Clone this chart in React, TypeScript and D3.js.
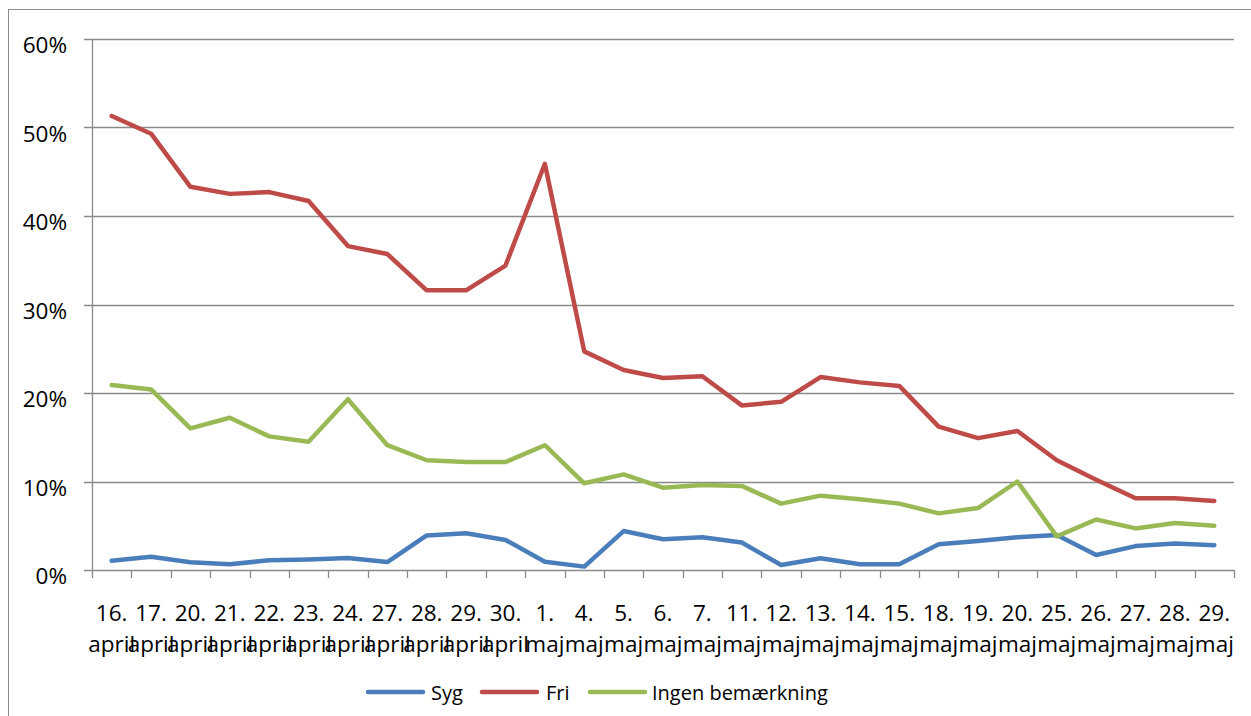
import React from "react";
import * as d3 from "d3";

const days = ["16.","17.","20.","21.","22.","23.","24.","27.","28.","29.","30.","1.","4.","5.","6.","7.","11.","12.","13.","14.","15.","18.","19.","20.","25.","26.","27.","28.","29."];
const months = ["april","april","april","april","april","april","april","april","april","april","april","maj","maj","maj","maj","maj","maj","maj","maj","maj","maj","maj","maj","maj","maj","maj","maj","maj","maj"];
const syg = [1.05,1.5,0.87,0.64,1.1,1.2,1.35,0.9,3.9,4.15,3.4,0.94,0.38,4.4,3.47,3.7,3.1,0.56,1.32,0.64,0.64,2.9,3.28,3.7,3.95,1.7,2.7,3.0,2.8];
const fri = [51.3,49.3,43.3,42.5,42.7,41.7,36.6,35.7,31.6,31.6,34.4,45.9,24.7,22.6,21.7,21.9,18.6,19.0,21.8,21.2,20.8,16.2,14.9,15.7,12.4,10.2,8.1,8.1,7.8];
const ingen = [20.9,20.4,16.0,17.2,15.1,14.5,19.3,14.1,12.4,12.2,12.2,14.1,9.8,10.8,9.3,9.6,9.5,7.5,8.4,8.0,7.5,6.4,7.0,10.0,3.8,5.7,4.7,5.3,5.0];
const yTicks = [0, 10, 20, 30, 40, 50, 60];
const seriesNames = ["Syg", "Fri", "Ingen bemærkning"];
const seriesColors = ["#4A7EBB", "#BE4B48", "#98B954"];

const FONT = "'Open Sans', Lato, sans-serif";

export default function App() {
  const W = 1251, H = 716;
  const left = 92, right = 1234, top = 39, bottom = 570;
  const idx = days.map((_, i) => String(i));
  const x = d3.scaleBand<string>().domain(idx).range([left, right]);
  const y = d3.scaleLinear().domain([0, 60]).range([bottom, top]);
  const cx = (i: number) => (x(String(i)) as number) + x.bandwidth() / 2;
  const line = d3.line<number>().x((_, i) => cx(i)).y((d) => y(d));
  const series = [syg, fri, ingen];
  const boundaries = d3.range(days.length + 1).map((i) => left + i * x.bandwidth());

  const legendItems = [
    { lx: 368, tx: 431 },
    { lx: 482, tx: 546 },
    { lx: 590, tx: 652 },
  ];

  return (
    <svg width={W} height={H} style={{ position: "fixed", left: 0, top: 0, background: "#fff" }} fontFamily={FONT}>
      <rect x={8.5} y={9.5} width={1400} height={900} fill="#fff" stroke="#8a8a8a" strokeWidth={1} />
      {yTicks.map((t) => (
        <g key={t}>
          <line x1={84} x2={right} y1={Math.round(y(t)) + 0.5} y2={Math.round(y(t)) + 0.5} stroke="#8a8a8a" strokeWidth={1.3} />
          <text x={67} y={y(t) + 14} textAnchor="end" fontSize={22.5} fill="#000">{t}%</text>
        </g>
      ))}
      <line x1={left + 0.5} x2={left + 0.5} y1={top} y2={bottom} stroke="#8a8a8a" strokeWidth={1.3} />
      {boundaries.map((bx, i) => (
        <line key={i} x1={Math.round(bx) + 0.5} x2={Math.round(bx) + 0.5} y1={bottom} y2={bottom + 8} stroke="#8a8a8a" strokeWidth={1.3} />
      ))}
      {days.map((d, i) => (
        <g key={i}>
          <text x={cx(i)} y={620.5} textAnchor="middle" fontSize={22.5} fill="#000">{d}</text>
          <text x={cx(i)} y={651.5} textAnchor="middle" fontSize={22.5} fill="#000">{months[i]}</text>
        </g>
      ))}
      {series.map((s, k) => (
        <path key={k} d={line(s) as string} fill="none" stroke={seriesColors[k]} strokeWidth={4.5} strokeLinejoin="round" strokeLinecap="round" />
      ))}
      {seriesNames.map((n, k) => (
        <g key={n}>
          <line x1={legendItems[k].lx} x2={legendItems[k].lx + 55} y1={692} y2={692} stroke={seriesColors[k]} strokeWidth={4.5} strokeLinecap="round" />
          <text x={legendItems[k].tx} y={700} fontSize={20} fill="#000">{n}</text>
        </g>
      ))}
    </svg>
  );
}
